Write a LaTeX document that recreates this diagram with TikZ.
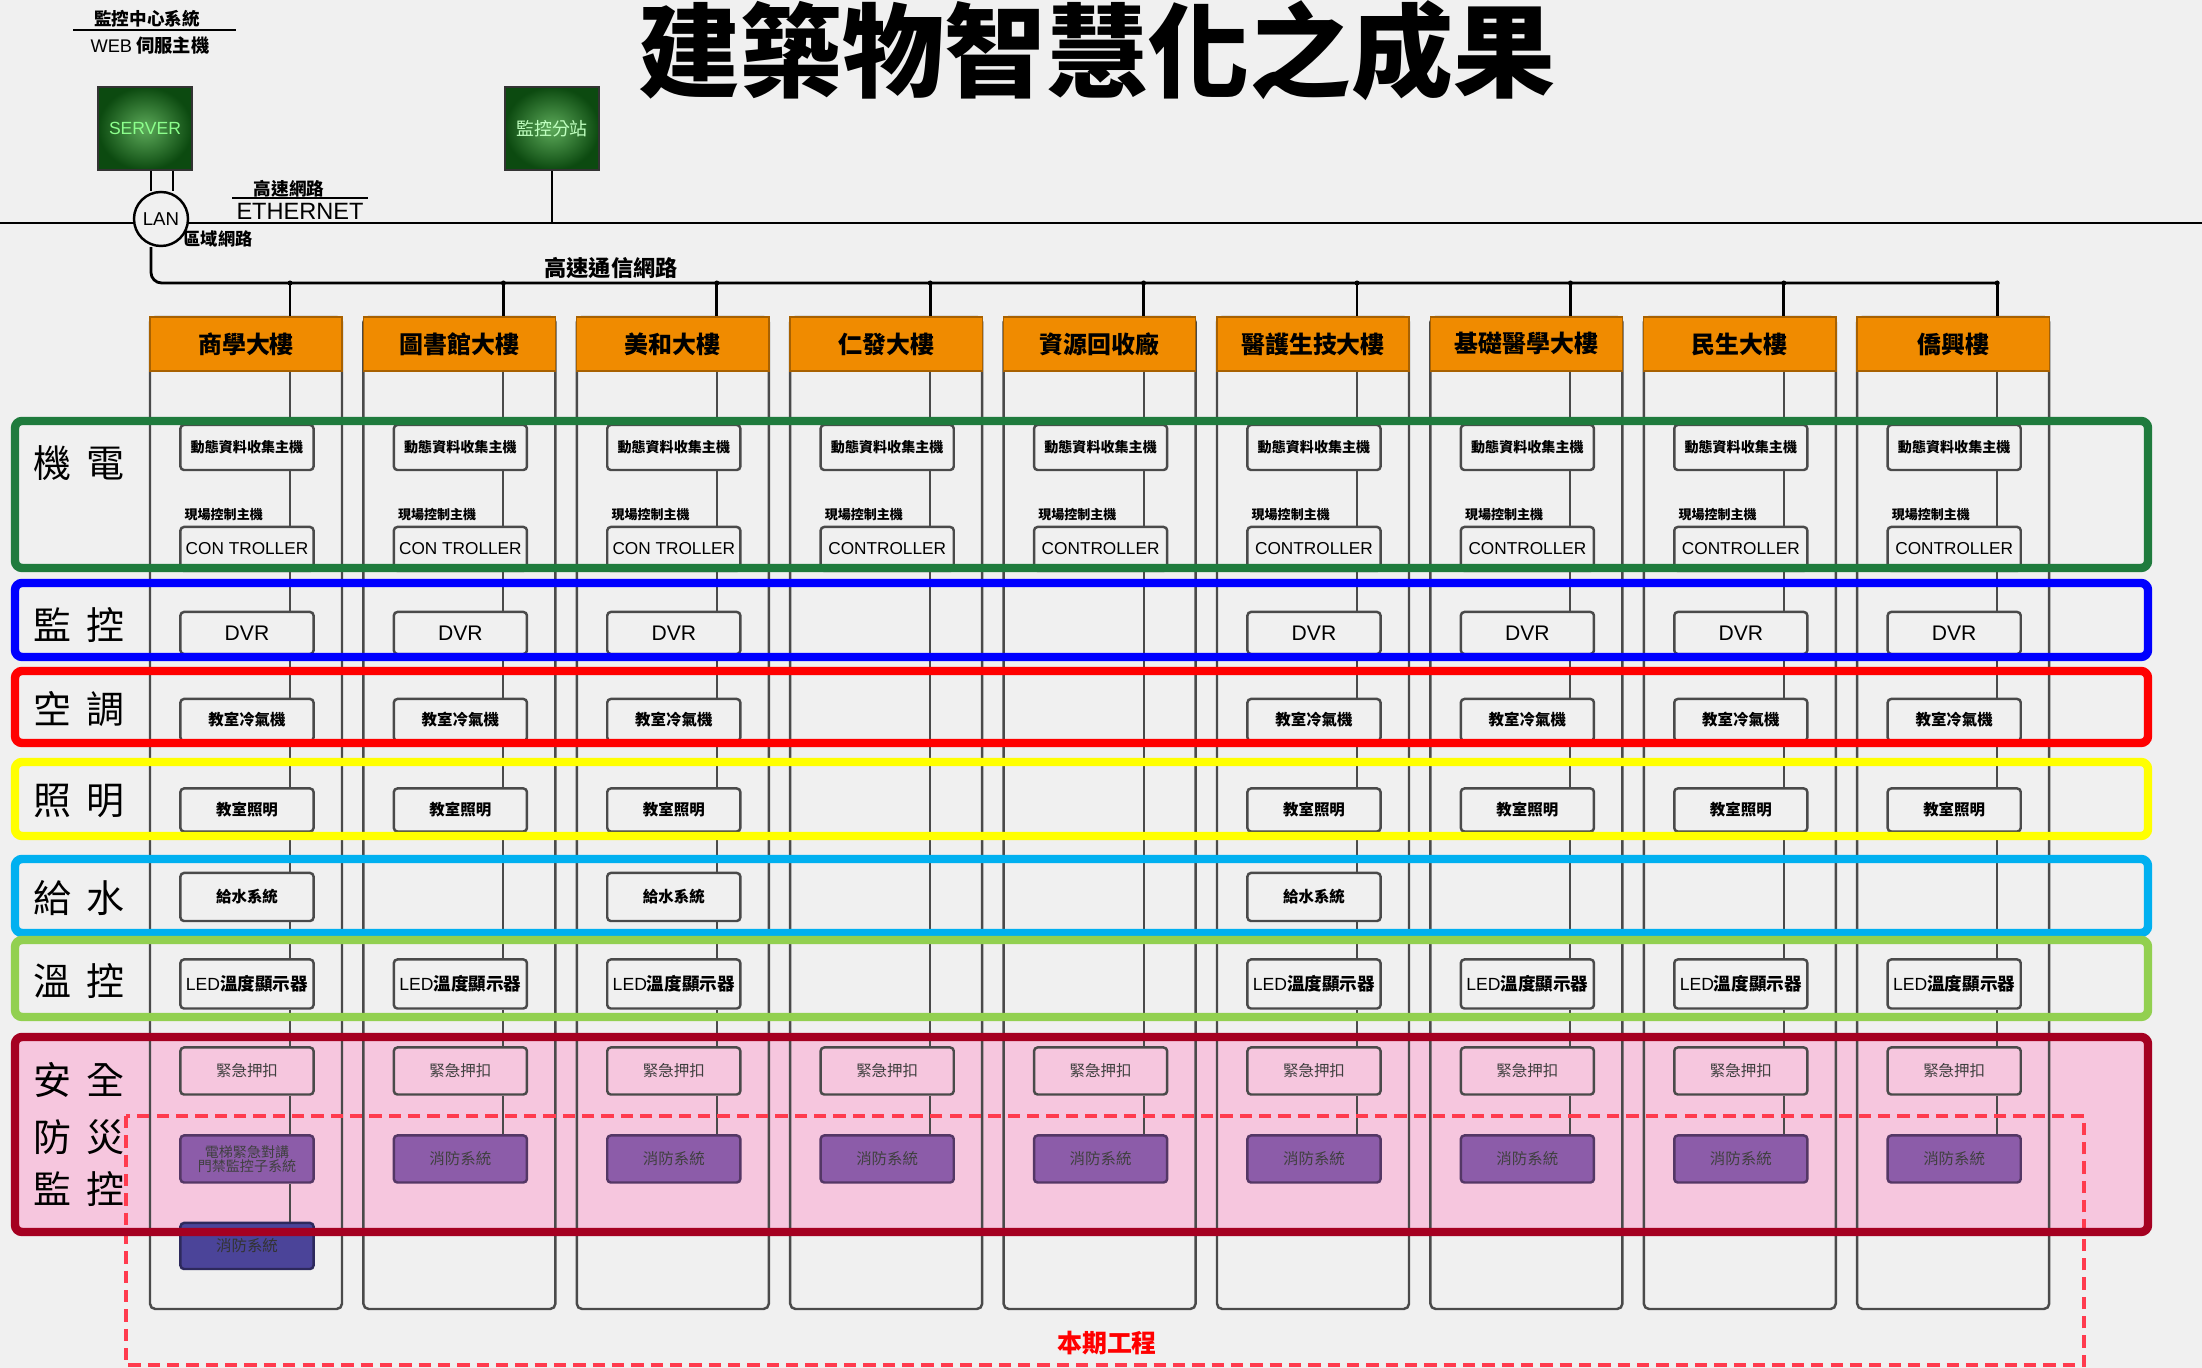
\documentclass[tikz,border=0pt]{standalone}
\usepackage{fontspec}
\setmainfont{Noto Sans CJK TC}
\newfontfamily\lat{Liberation Sans}
\usetikzlibrary{calc}
\definecolor{bg}{HTML}{F0F0F0}
\definecolor{bandG}{HTML}{1F7B3D}
\definecolor{bandB}{HTML}{0000FF}
\definecolor{bandR}{HTML}{FF0000}
\definecolor{bandY}{HTML}{FFFF00}
\definecolor{bandC}{HTML}{00B0F0}
\definecolor{bandL}{HTML}{92D050}
\definecolor{bandD}{HTML}{A50021}
\definecolor{pinkF}{HTML}{F6C6DE}
\definecolor{orangeF}{HTML}{F08B00}
\definecolor{purpF}{HTML}{8C5CA9}
\definecolor{blueF}{HTML}{4B4499}
\definecolor{lineC}{HTML}{4A4A4A}
\definecolor{dashR}{HTML}{FF3B4E}
\definecolor{srvIn}{HTML}{5DAA5A}
\definecolor{srvOut}{HTML}{0C4A10}
\newcommand{\myfs}[1]{\fontsize{#1}{#1}\selectfont}
\newcommand{\lnk}[3]{\draw[conn] (#1.south -| x#3) -- (#2.north -| x#3);}
\tikzset{
  bx/.style={draw=lineC, line width=0.7pt, rounded corners=1pt, minimum width=1.33cm, inner sep=0pt, align=center},
  pbx/.style={bx, fill=purpF, draw=purpF!60!black, text=black!75},
  hdrbox/.style={draw=orangeF!70!black, line width=0.4pt, fill=orangeF, minimum width=1.92cm, minimum height=0.54cm, inner sep=0pt, font=\bfseries\myfs{6.8}},
  conn/.style={draw=lineC, line width=0.6pt},
  colline/.style={draw=lineC, line width=0.7pt},
  bandln/.style={line width=2.4pt, rounded corners=2pt},
  thinln/.style={draw=black, line width=0.8pt},
  lbl/.style={inner sep=0pt, font=\myfs{10.8}},
  srvbox/.style={draw=black!80, line width=0.6pt, minimum width=0.94cm, minimum height=0.83cm, inner sep=0pt, inner color=srvIn, outer color=srvOut, shade},
}
\begin{document}
\begin{tikzpicture}[x=0.01cm, y=-0.01cm]
\useasboundingbox (0,0) rectangle (2202,1368);
\fill[bg] (0,0) rectangle (2202,1368);
% pink area
\fill[pinkF] (15,1037) rectangle (2148,1232);

% ---- top network ----
\node[inner sep=0pt, font=\bfseries\myfs{5}] (mcs) at (147,19) {監控中心系統};
\draw[thinln] (73,30) -- (236,30);
\node[inner sep=0pt, font=\bfseries\myfs{5.2}] (web) at (150,46) {{\lat\mdseries WEB} 伺服主機};
\node[srvbox] (srv) at (145,128.5) {\lat\myfs{5}\textcolor{green!45!white}{SERVER}};
\node[srvbox] (st) at (552,128.5) {\myfs{5.1}\textcolor{green!25!white}{監控分站}};
\coordinate (eL) at (0,223);
\coordinate (eR) at (2202,223);
\draw[thinln] (eL) -- (eR);
\draw[thinln] (st.south) -- (st.south |- eL);
\node[draw=black, line width=0.7pt, fill=bg, circle, minimum size=0.54cm, inner sep=0pt] (lan) at (161,219) {\lat\myfs{5.3}LAN};
\draw[thinln] ([xshift=-0.1cm]lan.north) -- ([xshift=-0.1cm]lan.north |- srv.south);
\draw[thinln] ([xshift=0.12cm]lan.north) -- ([xshift=0.12cm]lan.north |- srv.south);
\draw[thinln] (232,198) -- (368,198);
\node[inner sep=0pt, font=\bfseries\myfs{5}] (hsn) at (289,189) {高速網路};
\node[inner sep=0pt, font=\lat\myfs{6.7}] (eth) at (300,211) {ETHERNET};
\node[inner sep=0pt, font=\bfseries\myfs{4.9}] (area) at (218,239) {區域網路};
\node[inner sep=0pt, font=\bfseries\myfs{6.3}] (hsc) at (611,268) {高速通信網路};

% ---- columns ----
\foreach \i/\nm/\full/\wat/\ctl in {0/商學大樓/1/1/CON TROLLER,1/圖書館大樓/1/0/CON TROLLER,2/美和大樓/1/1/CON TROLLER,3/仁發大樓/0/0/CONTROLLER,4/資源回收廠/0/0/CONTROLLER,5/醫護生技大樓/1/1/CONTROLLER,6/基礎醫學大樓/1/0/CONTROLLER,7/民生大樓/1/0/CONTROLLER,8/僑興樓/1/0/CONTROLLER}{
  \pgfmathsetmacro{\L}{150+213.4*\i}
  \pgfmathsetmacro{\C}{\L+97}
  \pgfmathsetmacro{\X}{\L+140}
  \coordinate (x\i) at (\X,283);
  \draw[colline, rounded corners=1.5pt] (\L,317) rectangle (\L+192,1309);
  \node[hdrbox] (h\i) at (\L+96,344) {\nm};
  \draw[thinln] (x\i) -- (h\i.north -| x\i);
  \fill (x\i) circle (2.5);
  \node[bx, minimum height=0.45cm, font=\bfseries\myfs{4}] (d\i) at (\C,447.5) {動態資料收集主機};
  \node[inner sep=0pt, anchor=west, font=\bfseries\myfs{3.7}] (k\i) at (\L+34,515) {現場控制主機};
  \node[bx, minimum height=0.44cm, font=\lat\myfs{4.9}] (c\i) at (\C,549) {\ctl};
  \lnk{h\i}{d\i}{\i}
  \lnk{d\i}{c\i}{\i}
  \ifnum\full=1
    \node[bx, minimum height=0.42cm, font=\lat\myfs{6}] (v\i) at (\C,633) {DVR};
    \node[bx, minimum height=0.42cm, font=\bfseries\myfs{4.4}] (a\i) at (\C,720) {教室冷氣機};
    \node[bx, minimum height=0.43cm, font=\bfseries\myfs{4.4}] (t\i) at (\C,810) {教室照明};
    \lnk{c\i}{v\i}{\i}
    \lnk{v\i}{a\i}{\i}
    \lnk{a\i}{t\i}{\i}
    \def\prev{t\i}
    \ifnum\wat=1
      \node[bx, minimum height=0.48cm, font=\bfseries\myfs{4.4}] (w\i) at (\C,897) {給水系統};
      \lnk{t\i}{w\i}{\i}
      \def\prev{w\i}
    \fi
    \node[bx, minimum height=0.49cm, font=\bfseries\myfs{5}] (l\i) at (\C,984) {{\lat\mdseries LED}溫度顯示器};
    \lnk{\prev}{l\i}{\i}
    \def\prev{l\i}
  \else
    \def\prev{c\i}
  \fi
  \node[bx, minimum height=0.47cm, font=\myfs{4.4}, text=black!75] (e\i) at (\C,1071) {緊急押扣};
  \lnk{\prev}{e\i}{\i}
  \ifnum\i=0
    \node[pbx, minimum height=0.47cm, font=\myfs{4}] (f\i) at (\C,1159) {電梯緊急對講\\門禁監控子系統};
  \else
    \node[pbx, minimum height=0.47cm, font=\myfs{4.4}] (f\i) at (\C,1159) {消防系統};
  \fi
  \lnk{e\i}{f\i}{\i}
}
\draw[thinln, rounded corners=3pt] ([xshift=-0.1cm]lan.south) |- (x8);
\node[bx, fill=blueF, draw=blueF!60!black, minimum height=0.46cm, font=\myfs{4.4}, text=black!80] (b0) at (247,1246) {消防系統};
\lnk{f0}{b0}{0}

% ---- 本期工程 dashed area ----
\draw[dashR, line width=1pt, dash pattern=on 3.5pt off 2pt] (126,1116) rectangle (2084,1365);
\node[inner sep=0pt, text=red, font=\bfseries\myfs{7.1}] (bq) at (1107,1343) {本期工程};

% ---- bands ----
\draw[bandln, bandG] (15,421) rectangle (2148,568);
\draw[bandln, bandB] (15,583) rectangle (2148,657);
\draw[bandln, bandR] (15,671) rectangle (2148,743);
\draw[bandln, bandY] (15,762) rectangle (2148,836);
\draw[bandln, bandC] (15,859) rectangle (2148,933);
\draw[bandln, bandL] (15,940) rectangle (2148,1017);
\draw[bandln, bandD] (15,1037) rectangle (2148,1232);

% ---- left labels ----
\node[lbl] (g1) at (79,463) {機\hspace{0.4em}電};
\node[lbl] (g2) at (79,625) {監\hspace{0.4em}控};
\node[lbl] (g3) at (79,709) {空\hspace{0.4em}調};
\node[lbl] (g4) at (79,801) {照\hspace{0.4em}明};
\node[lbl] (g5) at (79,898) {給\hspace{0.4em}水};
\node[lbl] (g6) at (79,981) {溫\hspace{0.4em}控};
\node[lbl] (g7) at (79,1080) {安\hspace{0.4em}全};
\node[lbl] (g8) at (79,1137) {防\hspace{0.4em}災};
\node[lbl] (g9) at (79,1189) {監\hspace{0.4em}控};

% ---- title ----
\node[inner sep=0pt, font=\bfseries\myfs{29}] (title) at (1097,51) {建築物智慧化之成果};
\end{tikzpicture}
\end{document}
